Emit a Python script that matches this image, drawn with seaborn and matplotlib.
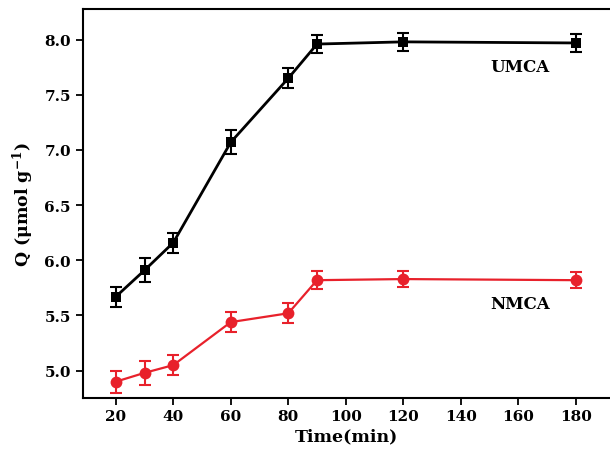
import pandas as pd
import matplotlib
matplotlib.use('Agg')
import matplotlib.pyplot as plt
import seaborn as sns

# adsorption kinetics
time_min = [20, 30, 40, 60, 80, 90, 120, 180]
umca_q = [5.67, 5.91, 6.16, 7.07, 7.65, 7.96, 7.98, 7.97]
umca_err = [0.09, 0.11, 0.09, 0.11, 0.09, 0.08, 0.08, 0.08]
nmca_q = [4.90, 4.98, 5.05, 5.44, 5.52, 5.82, 5.83, 5.82]
nmca_err = [0.10, 0.11, 0.09, 0.09, 0.09, 0.08, 0.07, 0.07]

xticks = [20, 40, 60, 80, 100, 120, 140, 160, 180]
yticks = [5.0, 5.5, 6.0, 6.5, 7.0, 7.5, 8.0]

umca = pd.DataFrame({'time': time_min, 'Q': umca_q, 'err': umca_err})
nmca = pd.DataFrame({'time': time_min, 'Q': nmca_q, 'err': nmca_err})

sns.set_style('ticks', {'axes.edgecolor': 'black', 'text.color': 'black',
                        'axes.labelcolor': 'black', 'xtick.color': 'black',
                        'ytick.color': 'black'})
plt.rcParams['font.family'] = ['DejaVu Serif']
plt.rcParams['font.weight'] = 'bold'
plt.rcParams['mathtext.fontset'] = 'dejavuserif'

red = '#E8212B'

fig = plt.figure(figsize=(6.1, 4.6), dpi=100)
ax = fig.add_axes([0.1356, 0.1333, 0.8644, 0.8443])

sns.lineplot(data=umca, x='time', y='Q', ax=ax, color='black', lw=2,
             marker='s', markersize=7, markeredgewidth=0)
ax.errorbar(umca['time'], umca['Q'], yerr=umca['err'], fmt='none',
            ecolor='black', elinewidth=1.5, capsize=4, capthick=1.5)

sns.lineplot(data=nmca, x='time', y='Q', ax=ax, color=red, lw=1.6,
             marker='o', markersize=8.5, markeredgewidth=0)
ax.errorbar(nmca['time'], nmca['Q'], yerr=nmca['err'], fmt='none',
            ecolor=red, elinewidth=1.5, capsize=4, capthick=1.5)

ax.text(160.6, 7.755, 'UMCA', fontsize=12, fontweight='bold',
        ha='center', va='center')
ax.text(160.6, 5.61, 'NMCA', fontsize=12, fontweight='bold',
        ha='center', va='center')

ax.set_xlim(8.5, 191.9)
ax.set_ylim(4.755, 8.275)
ax.set_xticks(xticks)
ax.set_yticks(yticks)
ax.set_yticklabels([f'{v:.1f}' for v in yticks])
ax.tick_params(direction='out', length=5, width=1.3, labelsize=11, pad=3.5,
               colors='black')
for s in ['left', 'bottom', 'top']:
    ax.spines[s].set_linewidth(1.5)
ax.spines['right'].set_visible(False)

ax.set_xlabel('Time(min)', fontsize=12.5, fontweight='bold', labelpad=3)
ax.set_ylabel(r'Q (μmol g$^{\mathbf{-1}}$)', fontsize=12.5,
              fontweight='bold', labelpad=6)

fig.savefig('out.png', dpi=100)
